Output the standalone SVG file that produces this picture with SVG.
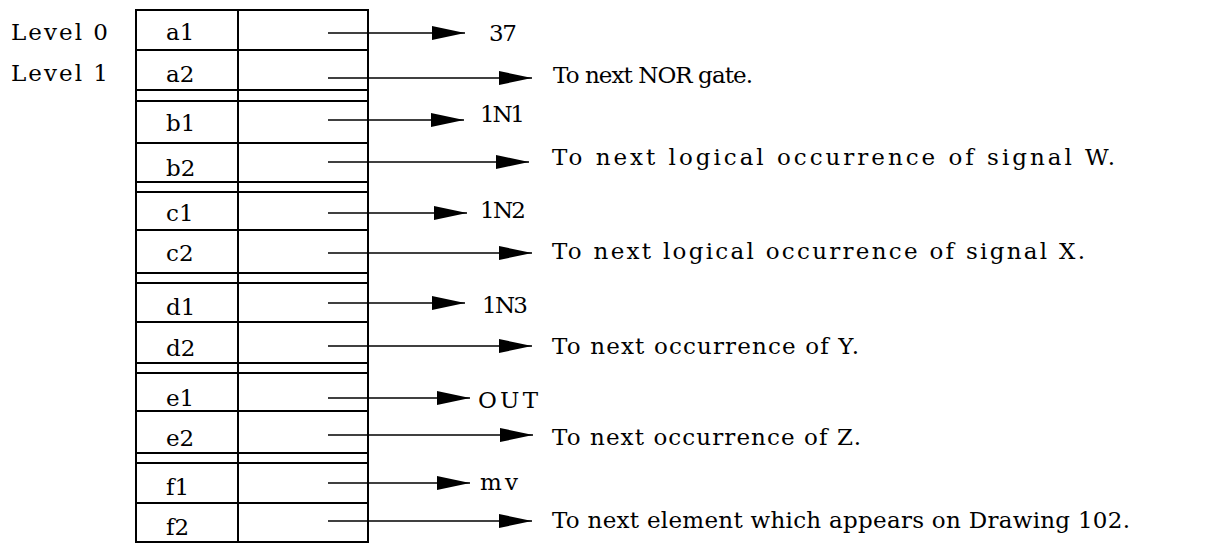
<svg xmlns="http://www.w3.org/2000/svg" width="1212" height="544" viewBox="0 0 1212 544">
  <style>
    .bg { fill: #ffffff; }
    .frame { fill: none; stroke: #000; stroke-width: 2; }
    .rule { stroke: #000; stroke-width: 2; }
    .lbl { font-family: "DejaVu Serif", "Liberation Serif", serif; font-size: 23px; fill: #000; }
    .wire { stroke: #000; stroke-width: 1.6; fill: none; marker-end: url(#head); }
  </style>
  <defs>
    <marker id="head" markerUnits="userSpaceOnUse" markerWidth="36" markerHeight="15" refX="33" refY="7" orient="auto">
      <path d="M0,0 L33,7 L0,14 Z" fill="#000"/>
    </marker>
  </defs>

  <rect class="bg" x="0" y="0" width="1212" height="544"/>

  <!-- level captions -->
  <g id="level-0"><text class="lbl" x="11" y="40" textLength="97" lengthAdjust="spacing">Level 0</text></g>
  <g id="level-1"><text class="lbl" x="11" y="81" textLength="97" lengthAdjust="spacing">Level 1</text></g>

  <!-- record table: outline, value column divider -->
  <g id="table">
    <rect class="frame" x="136" y="10" width="232" height="532"/>
    <line class="rule" x1="238" y1="10" x2="238" y2="542"/>
  </g>

  <!-- record pairs, each separated by a double rule -->
  <g id="rec-a">
    <line class="rule" x1="136" y1="50" x2="368" y2="50"/>
    <line class="rule" x1="136" y1="90" x2="368" y2="90"/>
    <text class="lbl" x="166" y="40">a1</text>
    <text class="lbl" x="166" y="82">a2</text>
  </g>
  <g id="rec-b">
    <line class="rule" x1="136" y1="101" x2="368" y2="101"/>
    <line class="rule" x1="136" y1="143" x2="368" y2="143"/>
    <line class="rule" x1="136" y1="182" x2="368" y2="182"/>
    <text class="lbl" x="166" y="131">b1</text>
    <text class="lbl" x="166" y="176">b2</text>
  </g>
  <g id="rec-c">
    <line class="rule" x1="136" y1="192" x2="368" y2="192"/>
    <line class="rule" x1="136" y1="230" x2="368" y2="230"/>
    <line class="rule" x1="136" y1="273" x2="368" y2="273"/>
    <text class="lbl" x="166" y="221">c1</text>
    <text class="lbl" x="166" y="261">c2</text>
  </g>
  <g id="rec-d">
    <line class="rule" x1="136" y1="283" x2="368" y2="283"/>
    <line class="rule" x1="136" y1="322" x2="368" y2="322"/>
    <line class="rule" x1="136" y1="363" x2="368" y2="363"/>
    <text class="lbl" x="166" y="315">d1</text>
    <text class="lbl" x="166" y="356">d2</text>
  </g>
  <g id="rec-e">
    <line class="rule" x1="136" y1="373" x2="368" y2="373"/>
    <line class="rule" x1="136" y1="411" x2="368" y2="411"/>
    <line class="rule" x1="136" y1="453" x2="368" y2="453"/>
    <text class="lbl" x="166" y="406">e1</text>
    <text class="lbl" x="166" y="446">e2</text>
  </g>
  <g id="rec-f">
    <line class="rule" x1="136" y1="463" x2="368" y2="463"/>
    <line class="rule" x1="136" y1="503" x2="368" y2="503"/>
    <text class="lbl" x="166" y="495">f1</text>
    <text class="lbl" x="166" y="535">f2</text>
  </g>

  <!-- pointers from the value column -->
  <g id="connectors">
    <line class="wire" x1="328" y1="33" x2="465" y2="33"/>
    <line class="wire" x1="328" y1="78" x2="532" y2="78"/>
    <line class="wire" x1="328" y1="120" x2="464" y2="120"/>
    <line class="wire" x1="328" y1="162" x2="529" y2="162"/>
    <line class="wire" x1="328" y1="213" x2="467" y2="213"/>
    <line class="wire" x1="328" y1="253" x2="532" y2="253"/>
    <line class="wire" x1="328" y1="303" x2="465" y2="303"/>
    <line class="wire" x1="328" y1="346" x2="532" y2="346"/>
    <line class="wire" x1="328" y1="398" x2="470" y2="398"/>
    <line class="wire" x1="328" y1="435" x2="533" y2="435"/>
    <line class="wire" x1="328" y1="483" x2="470" y2="483"/>
    <line class="wire" x1="328" y1="521" x2="532" y2="521"/>
  </g>

  <!-- pointer targets -->
  <g id="t-a1"><text class="lbl" x="489" y="41" textLength="28" lengthAdjust="spacing">37</text></g>
  <g id="t-a2"><text class="lbl" x="553" y="83" textLength="200" lengthAdjust="spacing">To next NOR gate.</text></g>
  <g id="t-b1"><text class="lbl" x="480" y="122" textLength="45" lengthAdjust="spacing">1N1</text></g>
  <g id="t-b2"><text class="lbl" x="552" y="165" textLength="563" lengthAdjust="spacing">To next logical occurrence of signal W.</text></g>
  <g id="t-c1"><text class="lbl" x="480" y="218" textLength="46" lengthAdjust="spacing">1N2</text></g>
  <g id="t-c2"><text class="lbl" x="552" y="259" textLength="533" lengthAdjust="spacing">To next logical occurrence of signal X.</text></g>
  <g id="t-d1"><text class="lbl" x="482" y="313" textLength="46" lengthAdjust="spacing">1N3</text></g>
  <g id="t-d2"><text class="lbl" x="552" y="354" textLength="307" lengthAdjust="spacing">To next occurrence of Y.</text></g>
  <g id="t-e1"><text class="lbl" x="478" y="408" textLength="60" lengthAdjust="spacing">OUT</text></g>
  <g id="t-e2"><text class="lbl" x="552" y="445" textLength="309" lengthAdjust="spacing">To next occurrence of Z.</text></g>
  <g id="t-f1"><text class="lbl" x="480" y="490" textLength="38" lengthAdjust="spacing">mv</text></g>
  <g id="t-f2"><text class="lbl" x="552" y="528" textLength="578" lengthAdjust="spacing">To next element which appears on Drawing 102.</text></g>
</svg>
